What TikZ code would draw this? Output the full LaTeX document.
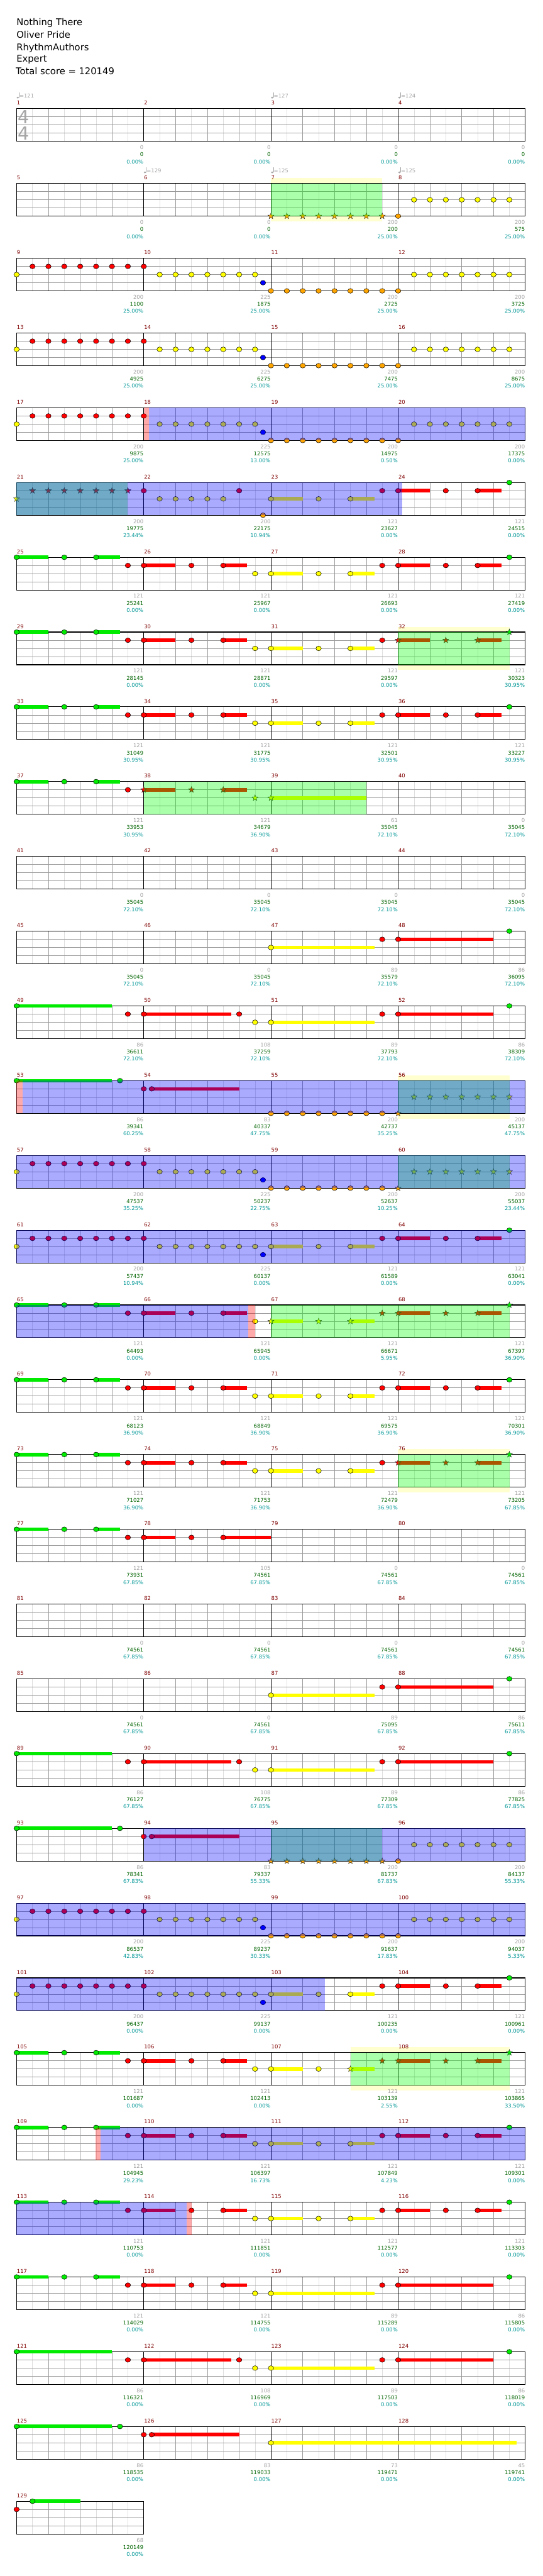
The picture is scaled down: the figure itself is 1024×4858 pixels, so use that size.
\documentclass[tikz,border=0pt]{standalone}
\usepackage{fontspec}
\setmainfont{DejaVu Sans}
\definecolor{cG}{RGB}{0,235,0}
\definecolor{cR}{RGB}{255,0,0}
\definecolor{cY}{RGB}{255,255,0}
\definecolor{cB}{RGB}{0,0,255}
\definecolor{cO}{RGB}{255,165,0}
\definecolor{ovG}{RGB}{0,255,0}
\definecolor{ovB}{RGB}{0,0,255}
\definecolor{ovR}{RGB}{255,0,0}
\definecolor{bandc}{RGB}{255,255,208}
\definecolor{mred}{RGB}{128,0,0}
\definecolor{gnum}{RGB}{160,160,160}
\definecolor{snum}{RGB}{0,100,0}
\definecolor{pnum}{RGB}{0,150,150}
\definecolor{tgray}{RGB}{165,165,165}
\definecolor{lgray}{RGB}{222,222,222}
\definecolor{mgray}{RGB}{155,155,155}
\newcommand\Qsm{\fontsize{10}{12}\selectfont}
\newcommand\QX[1]{31.3+30*(#1)}
\newcommand\QY[2]{205+141*(#1)+15.4*(#2)}
% notes
\newcommand\Qc[4]{\filldraw[qnote,fill=#4] ({\QX{#2}},{\QY{#1}{#3}}) ellipse [x radius=5.1,y radius=4.5];}
\newcommand\Qs[4]{\filldraw[qstar,fill=#4,shift={({\QX{#2}},{\QY{#1}{#3}})}] (-90:6) -- (-54:2.5) -- (-18:6) -- (18:2.5) -- (54:6) -- (90:2.5) -- (126:6) -- (162:2.5) -- (198:6) -- (234:2.5) -- cycle;}
\newcommand\Qn[1]{\csname Q#1\endcsname}
\newcommand\Qrun[6]{\foreach \e in {#3,...,#4}{\Qn{#1}{#2}{\e}{#5}{#6}}}
\newcommand\Qsus[5]{\fill[#5] ({\QX{#2}},{\QY{#1}{#4}-3.3}) rectangle ({\QX{#3}},{\QY{#1}{#4}+3.3});}
\newcommand\Qov[4]{\fill[#4,opacity=0.333] ({\QX{#2}},{\QY{#1}{0}}) rectangle ({\QX{#3}},{\QY{#1}{4}});}
\newcommand\Qband[3]{\fill[bandc] ({\QX{#2}},{\QY{#1}{0}-10}) rectangle ({\QX{#3}},{\QY{#1}{4}+10});}
% staff
\newcommand\Qstaff[2]{%
 \pgfmathsetmacro\yt{205+141*#1}%
 \pgfmathsetmacro\xr{31.3+240*#2}%
 \pgfmathtruncatemacro\ne{8*#2-1}%
 \pgfmathtruncatemacro\nq{4*#2-1}%
 \fill[white] (31.3,\yt) rectangle (\xr,\yt+61.6);
 \foreach \i in {1,...,\ne} {\draw[eighthl] ({31.3+30*\i},\yt) -- ({31.3+30*\i},\yt+61.6);}
 \foreach \i in {1,...,\nq} {\draw[quarterl] ({31.3+60*\i},\yt) -- ({31.3+60*\i},\yt+61.6);}
 \foreach \l in {1,2,3} {\draw[lanel] (31.3,\yt+15.4*\l) -- (\xr,\yt+15.4*\l);}
 \ifnum#2>1 \foreach \i in {1,2,3} {\draw[measl] ({31.3+240*\i},\yt) -- ({31.3+240*\i},\yt+61.6);}\fi
 \draw[borderl] (31.3,\yt) rectangle (\xr,\yt+61.6);}
% tempo
\newcommand\Qtempo[3]{%
 \pgfmathsetmacro\tx{31.3+240*#2}\pgfmathsetmacro\ty{205+141*#1-20}%
 \fill[tgray] (\tx+2.3,\ty-0.9) ellipse [x radius=2.3,y radius=1.8];
 \draw[tgray,line width=0.7pt] (\tx+4.4,\ty-1) -- (\tx+4.4,\ty-11);
 \node[anchor=base west,inner sep=0,text=tgray,font=\Qsm] (t#1x#2) at (\tx+5.3,\ty) {=#3};}
% pieces
\newcommand\QDA[1]{\Qc{#1}{0}{2}{cY}\Qrun{c}{#1}{1}{8}{1}{cR}\Qrun{c}{#1}{9}{15}{2}{cY}\Qc{#1}{15.5}{3}{cB}}
\newcommand\QRA[3]{\Qsus{#1}{0}{2}{0}{cG}\Qsus{#1}{5}{6.5}{0}{cG}\Qsus{#1}{8}{10}{1}{cR}\Qsus{#1}{13}{#3}{1}{cR}%
 \Qc{#1}{0}{0}{cG}\Qc{#1}{3}{0}{cG}\Qc{#1}{5}{0}{cG}\Qc{#1}{7}{1}{cR}%
 \Qn{#2}{#1}{8}{1}{cR}\Qn{#2}{#1}{11}{1}{cR}\Qn{#2}{#1}{13}{1}{cR}}
\newcommand\QRBn[2]{\Qsus{#1}{16}{18}{2}{cY}\Qn{#2}{#1}{16}{2}{cY}\Qn{#2}{#1}{19}{2}{cY}}
\newcommand\QRB[3]{\QRBn{#1}{#3}\Qn{#2}{#1}{15}{2}{cY}}
\newcommand\QRC[2]{\Qsus{#1}{21}{22.5}{2}{cY}\Qn{#2}{#1}{21}{2}{cY}}
\newcommand\QRD[3]{\Qsus{#1}{24}{26}{1}{cR}\Qsus{#1}{29}{30.5}{1}{cR}%
 \Qn{#2}{#1}{23}{1}{cR}\Qn{#3}{#1}{24}{1}{cR}\Qn{#3}{#1}{27}{1}{cR}\Qn{#3}{#1}{29}{1}{cR}\Qn{#3}{#1}{31}{0}{cG}}
\newcommand\QRF[1]{\QRA{#1}{c}{14.5}\QRB{#1}{c}{c}\QRC{#1}{c}\QRD{#1}{c}{c}}
\newcommand\QLA[1]{\Qsus{#1}{0}{6}{0}{cG}\Qsus{#1}{8}{13.5}{1}{cR}%
 \Qc{#1}{0}{0}{cG}\Qc{#1}{7}{1}{cR}\Qc{#1}{8}{1}{cR}\Qc{#1}{14}{1}{cR}\Qc{#1}{15}{2}{cY}}
\newcommand\QLB[1]{\Qsus{#1}{16}{22.5}{2}{cY}\Qsus{#1}{24}{30}{1}{cR}%
 \Qc{#1}{16}{2}{cY}\Qc{#1}{23}{1}{cR}\Qc{#1}{24}{1}{cR}\Qc{#1}{31}{0}{cG}}
\newcommand\QIC[1]{\Qsus{#1}{0}{6}{0}{cG}\Qsus{#1}{8.5}{14}{1}{cR}%
 \Qc{#1}{0}{0}{cG}\Qc{#1}{6.5}{0}{cG}\Qc{#1}{8}{1}{cR}\Qc{#1}{8.5}{1}{cR}}
\newcommand\QEE[4]{\Qrun{#2}{#1}{16}{23}{4}{cO}\Qn{#3}{#1}{24}{4}{cO}\Qrun{#4}{#1}{25}{31}{2}{cY}}
\begin{document}
\begin{tikzpicture}[x=1pt,y=-1pt,
  eighthl/.style={draw=lgray,line width=0.6pt},
  quarterl/.style={draw=mgray,line width=0.8pt},
  lanel/.style={draw=mgray,line width=0.9pt},
  measl/.style={draw=black,line width=0.7pt},
  borderl/.style={draw=black,line width=1.3pt},
  qnote/.style={draw=black,line width=0.6pt},
  qstar/.style={draw=black!85,line width=0.5pt},
  mnum/.style={anchor=base west,inner sep=0,font=\Qsm,text=mred},
  bnum/.style={anchor=base east,inner sep=0,font=\Qsm},
  head/.style={anchor=base west,inner sep=0,font=\fontsize{17.5}{20}\selectfont}]
\useasboundingbox (0,0) rectangle (1024,4858);
\fill[white] (0,0) rectangle (1024,4858);
% header
\node[head] (title) at (31,48.3) {Nothing There};
\node[head] (artist) at (31,71.7) {Oliver Pride};
\node[head] (author) at (31,95) {RhythmAuthors};
\node[head] (diff) at (31,117.3) {Expert};
\node[head] (total) at (29.5,140.7) {Total score = 120149};
% bands
\Qband{1}{16}{23}\Qband{7}{24}{31}\Qband{13}{24}{31}\Qband{18}{24}{31}\Qband{26}{21}{31}
% staffs
\foreach \r in {0,...,31} {\Qstaff{\r}{4}}
\Qstaff{32}{1}
% time signature
\node[inner sep=0,text=tgray,font=\fontsize{34}{36}\selectfont] (ts1) at (44.8,221) {4};
\node[inner sep=0,text=tgray,font=\fontsize{34}{36}\selectfont] (ts2) at (44.8,251) {4};
% tempo
\Qtempo{0}{0}{121}\Qtempo{0}{2}{127}\Qtempo{0}{3}{124}
\Qtempo{1}{1}{129}\Qtempo{1}{2}{125}\Qtempo{1}{3}{125}
% notes
\QEE{1}{s}{c}{c}
\QDA{2}\QEE{2}{c}{c}{c}
\QDA{3}\QEE{3}{c}{c}{c}
\QDA{4}\QEE{4}{c}{c}{c}
\Qs{5}{0}{2}{cY}\Qrun{s}{5}{1}{7}{1}{cR}\Qc{5}{8}{1}{cR}\Qrun{c}{5}{9}{13}{2}{cY}\Qc{5}{14}{1}{cR}\Qc{5}{15.5}{4}{cO}\QRBn{5}{c}\QRC{5}{c}\QRD{5}{c}{c}
\QRF{6}
\QRA{7}{c}{14.5}\QRB{7}{c}{c}\QRC{7}{c}\QRD{7}{c}{s}
\QRF{8}
\QRA{9}{s}{14.5}\Qsus{9}{16}{22}{2}{cY}\Qs{9}{15}{2}{cY}\Qs{9}{16}{2}{cY}
\QLB{11}
\QLA{12}\QLB{12}
\QIC{13}\QEE{13}{c}{s}{s}
\QDA{14}\QEE{14}{c}{s}{s}
\QDA{15}\QRBn{15}{c}\QRC{15}{c}\QRD{15}{c}{c}
\QRA{16}{c}{14.5}\Qc{16}{15}{2}{cY}\QRBn{16}{s}\QRC{16}{s}\QRD{16}{s}{s}
\QRF{17}
\QRA{18}{c}{14.5}\QRB{18}{c}{c}\QRC{18}{c}\QRD{18}{c}{s}
\QRA{19}{c}{16}
\QLB{21}
\QLA{22}\QLB{22}
\QIC{23}\QEE{23}{s}{c}{c}
\QDA{24}\QEE{24}{c}{c}{c}
\QDA{25}\QRBn{25}{c}\QRC{25}{c}\QRD{25}{c}{c}
\QRA{26}{c}{14.5}\QRB{26}{c}{c}\QRC{26}{s}\QRD{26}{s}{s}
\QRF{27}
\QRF{28}
\QRA{29}{c}{14.5}\Qc{29}{15}{2}{cY}\QLB{29}
\QLA{30}\QLB{30}
\QIC{31}\Qsus{31}{16}{31.45}{2}{cY}\Qc{31}{16}{2}{cY}
\Qsus{32}{1}{4}{0}{cG}\Qc{32}{0}{1}{cR}\Qc{32}{1}{0}{cG}
% star power (green) overlays
\Qov{1}{16}{23}{ovG}\Qov{5}{0}{7}{ovG}\Qov{7}{24}{31}{ovG}\Qov{9}{8}{22}{ovG}
\Qov{13}{24}{31}{ovG}\Qov{14}{24}{31}{ovG}\Qov{16}{16}{31}{ovG}\Qov{18}{24}{31}{ovG}
\Qov{23}{16}{23}{ovG}\Qov{26}{21}{31}{ovG}
% activation (blue) overlays
\Qov{4}{8.33}{32}{ovB}\Qov{5}{0}{24.27}{ovB}\Qov{13}{0.39}{32}{ovB}\Qov{14}{0}{32}{ovB}
\Qov{15}{0}{32}{ovB}\Qov{16}{0}{14.56}{ovB}\Qov{23}{8}{32}{ovB}\Qov{24}{0}{32}{ovB}
\Qov{25}{0}{19.4}{ovB}\Qov{27}{5.27}{32}{ovB}\Qov{28}{0}{10.69}{ovB}
% pink
\Qov{4}{8}{8.33}{ovR}\Qov{13}{0}{0.39}{ovR}\Qov{16}{14.56}{15}{ovR}\Qov{27}{4.98}{5.27}{ovR}\Qov{28}{10.69}{11}{ovR}
% labels
\foreach \m/\g/\s/\p in {1/0/0/0.00,2/0/0/0.00,3/0/0/0.00,4/0/0/0.00,
5/0/0/0.00,6/0/0/0.00,7/200/200/25.00,8/200/575/25.00,
9/200/1100/25.00,10/225/1875/25.00,11/200/2725/25.00,12/200/3725/25.00,
13/200/4925/25.00,14/225/6275/25.00,15/200/7475/25.00,16/200/8675/25.00,
17/200/9875/25.00,18/225/12575/13.00,19/200/14975/0.50,20/200/17375/0.00,
21/200/19775/23.44,22/200/22175/10.94,23/121/23627/0.00,24/121/24515/0.00,
25/121/25241/0.00,26/121/25967/0.00,27/121/26693/0.00,28/121/27419/0.00,
29/121/28145/0.00,30/121/28871/0.00,31/121/29597/0.00,32/121/30323/30.95,
33/121/31049/30.95,34/121/31775/30.95,35/121/32501/30.95,36/121/33227/30.95,
37/121/33953/30.95,38/121/34679/36.90,39/61/35045/72.10,40/0/35045/72.10,
41/0/35045/72.10,42/0/35045/72.10,43/0/35045/72.10,44/0/35045/72.10,
45/0/35045/72.10,46/0/35045/72.10,47/89/35579/72.10,48/86/36095/72.10,
49/86/36611/72.10,50/108/37259/72.10,51/89/37793/72.10,52/86/38309/72.10,
53/86/39341/60.25,54/83/40337/47.75,55/200/42737/35.25,56/200/45137/47.75,
57/200/47537/35.25,58/225/50237/22.75,59/200/52637/10.25,60/200/55037/23.44,
61/200/57437/10.94,62/225/60137/0.00,63/121/61589/0.00,64/121/63041/0.00,
65/121/64493/0.00,66/121/65945/0.00,67/121/66671/5.95,68/121/67397/36.90,
69/121/68123/36.90,70/121/68849/36.90,71/121/69575/36.90,72/121/70301/36.90,
73/121/71027/36.90,74/121/71753/36.90,75/121/72479/36.90,76/121/73205/67.85,
77/121/73931/67.85,78/105/74561/67.85,79/0/74561/67.85,80/0/74561/67.85,
81/0/74561/67.85,82/0/74561/67.85,83/0/74561/67.85,84/0/74561/67.85,
85/0/74561/67.85,86/0/74561/67.85,87/89/75095/67.85,88/86/75611/67.85,
89/86/76127/67.85,90/108/76775/67.85,91/89/77309/67.85,92/86/77825/67.85,
93/86/78341/67.83,94/83/79337/55.33,95/200/81737/67.83,96/200/84137/55.33,
97/200/86537/42.83,98/225/89237/30.33,99/200/91637/17.83,100/200/94037/5.33,
101/200/96437/0.00,102/225/99137/0.00,103/121/100235/0.00,104/121/100961/0.00,
105/121/101687/0.00,106/121/102413/0.00,107/121/103139/2.55,108/121/103865/33.50,
109/121/104945/29.23,110/121/106397/16.73,111/121/107849/4.23,112/121/109301/0.00,
113/121/110753/0.00,114/121/111851/0.00,115/121/112577/0.00,116/121/113303/0.00,
117/121/114029/0.00,118/121/114755/0.00,119/89/115289/0.00,120/86/115805/0.00,
121/86/116321/0.00,122/108/116969/0.00,123/89/117503/0.00,124/86/118019/0.00,
125/86/118535/0.00,126/83/119033/0.00,127/73/119471/0.00,128/45/119741/0.00,
129/68/120149/0.00} {
 \pgfmathtruncatemacro\rr{int((\m-1)/4)}
 \pgfmathtruncatemacro\cc{\m-1-4*\rr}
 \pgfmathsetmacro\xl{31.3+240*\cc}
 \pgfmathsetmacro\xe{31.3+240*(\cc+1)-0.5}
 \pgfmathsetmacro\yt{205+141*\rr}
 \node[mnum] (m\m) at (\xl+0.5,\yt-7) {\m};
 \node[bnum,text=gnum] (g\m) at (\xe,\yt+76.9) {\g};
 \node[bnum,text=snum] (s\m) at (\xe,\yt+90.3) {\s};
 \node[bnum,text=pnum] (p\m) at (\xe,\yt+103.6) {\p\%};
}
\end{tikzpicture}
\end{document}
